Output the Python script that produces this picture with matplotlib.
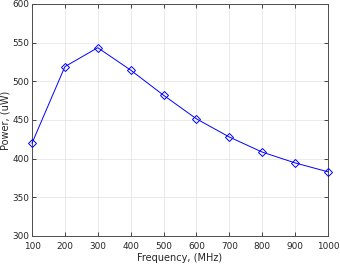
"""Power vs frequency sweep, MATLAB-like look."""
import matplotlib
matplotlib.use("Agg")
import matplotlib.pyplot as plt

freq_mhz = [100, 200, 300, 400, 500, 600, 700, 800, 900, 1000]
power_uw = [420, 519, 543.5, 514.5, 482, 451.5, 428, 408.5, 394.5, 383]

x_ticks = [100, 200, 300, 400, 500, 600, 700, 800, 900, 1000]
y_ticks = [300, 350, 400, 450, 500, 550, 600]

plt.rcParams['font.family'] = ['DejaVu Sans']
txt = '#262626'

fig = plt.figure(figsize=(3.4, 2.65), dpi=100)
ax = fig.add_axes([32 / 340, 1 - 236 / 265, 296 / 340, 232 / 265])

ax.plot(freq_mhz, power_uw, color='#0000ff', lw=0.7, marker='D',
        markersize=4.5, markerfacecolor='none', markeredgecolor='#0000ff',
        markeredgewidth=0.7, zorder=3, clip_on=False)

ax.set_xlim(100, 1000)
ax.set_ylim(300, 600)
ax.set_xticks(x_ticks)
ax.set_yticks(y_ticks)
ax.grid(True, color='#e6e6e6', lw=0.6, zorder=0)
ax.set_axisbelow(True)

ax.tick_params(direction='in', top=True, right=True, length=3, width=0.6,
               colors=txt, labelsize=6.4)
ax.tick_params(axis='x', pad=4)
ax.tick_params(axis='y', pad=2)
for s in ax.spines.values():
    s.set_color('#4d4d4d')
    s.set_linewidth(0.7)

ax.set_xlabel('Frequency, (MHz)', fontsize=7, color=txt)
ax.set_ylabel('Power, (uW)', fontsize=7, color=txt)
ax.yaxis.set_label_coords(-0.072, 0.5)
ax.xaxis.set_label_coords(0.5, -0.075)

fig.savefig('out.png', dpi=100)
plt.close(fig)
